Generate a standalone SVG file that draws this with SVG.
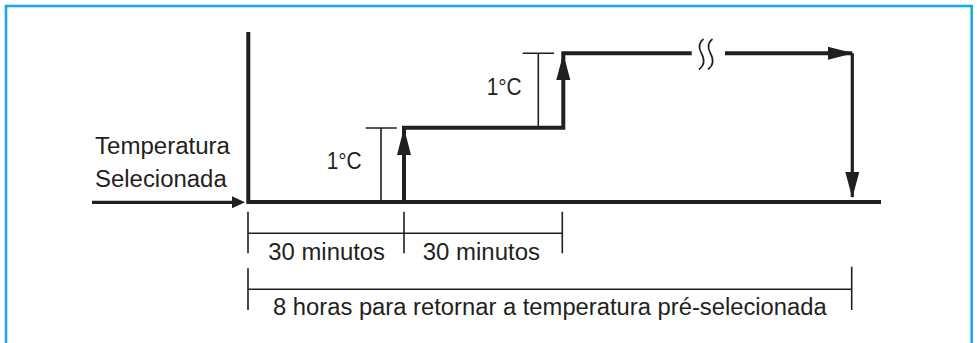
<svg xmlns="http://www.w3.org/2000/svg" width="977" height="343" viewBox="0 0 977 343">
<style>
text{font-family:"Liberation Sans",Arial,sans-serif;font-size:23px;fill:#231f20}
.thick{stroke:#231f20;stroke-width:4;fill:none}
.mid{stroke:#231f20;stroke-width:3.2;fill:none}
.thin{stroke:#231f20;stroke-width:1.6;fill:none}
.head{fill:#231f20}
</style>
<rect x="6" y="6" width="965.7" height="360" fill="#fff" stroke="#1aa8ec" stroke-width="2.6"/>
<g id="connectors">
<path class="thick" d="M248.3 32 V204 M246.3 202 H881"/>
<path class="mid" d="M92 202.3 H234"/>
<polygon class="head" points="232,196.3 245,202.3 232,208.3"/>
<path class="thick" d="M404 204 V127.7 H563.3 V53.3 H691.7"/>
<polygon class="head" points="404,128 397,155 411,155"/>
<polygon class="head" points="563.3,53.5 556.3,80 570.3,80"/>
<path class="thick" d="M725 53.3 H852.3"/>
<polygon class="head" points="828,46.8 853.5,53.3 828,59.8"/>
<path class="mid" d="M852.3 53.3 V197"/>
<polygon class="head" points="845.3,172 852.3,198 859.3,172"/>
<path class="thin" d="M703.5 39 C698 43 698.5 48 701.5 53.5 C704.5 59 705 65 699 69.5"/>
<path class="thin" d="M712.5 39 C707 43 707.5 48 710.5 53.5 C713.5 59 714 65 708 69.5"/>
<path class="thin" d="M381 128 V202 M365.7 128 H396.7"/>
<path class="thin" d="M538.3 53.3 V127.7 M522.7 53.3 H554"/>
<path class="thin" d="M248 211.7 V253.3 M404 211.7 V253.3 M562.3 211.7 V253.3 M248 233.3 H562.3"/>
<path class="thin" d="M248 268.3 V310 M851.7 266.7 V310 M248 289.3 H851.7"/>
</g>
<g id="label-temp">
<text x="95" y="154.3" textLength="135" lengthAdjust="spacingAndGlyphs">Temperatura</text>
<text x="95" y="186.7" textLength="131.7" lengthAdjust="spacingAndGlyphs">Selecionada</text>
</g>
<g id="label-1c-a"><text x="326.7" y="169" textLength="35" lengthAdjust="spacingAndGlyphs">1°C</text></g>
<g id="label-1c-b"><text x="486.7" y="95" textLength="35" lengthAdjust="spacingAndGlyphs">1°C</text></g>
<g id="label-30a"><text x="268.3" y="260" textLength="116.7" lengthAdjust="spacingAndGlyphs">30 minutos</text></g>
<g id="label-30b"><text x="422.7" y="260" textLength="117.3" lengthAdjust="spacingAndGlyphs">30 minutos</text></g>
<g id="label-8h"><text x="273" y="315" textLength="553.7" lengthAdjust="spacingAndGlyphs">8 horas para retornar a temperatura pré-selecionada</text></g>
</svg>
